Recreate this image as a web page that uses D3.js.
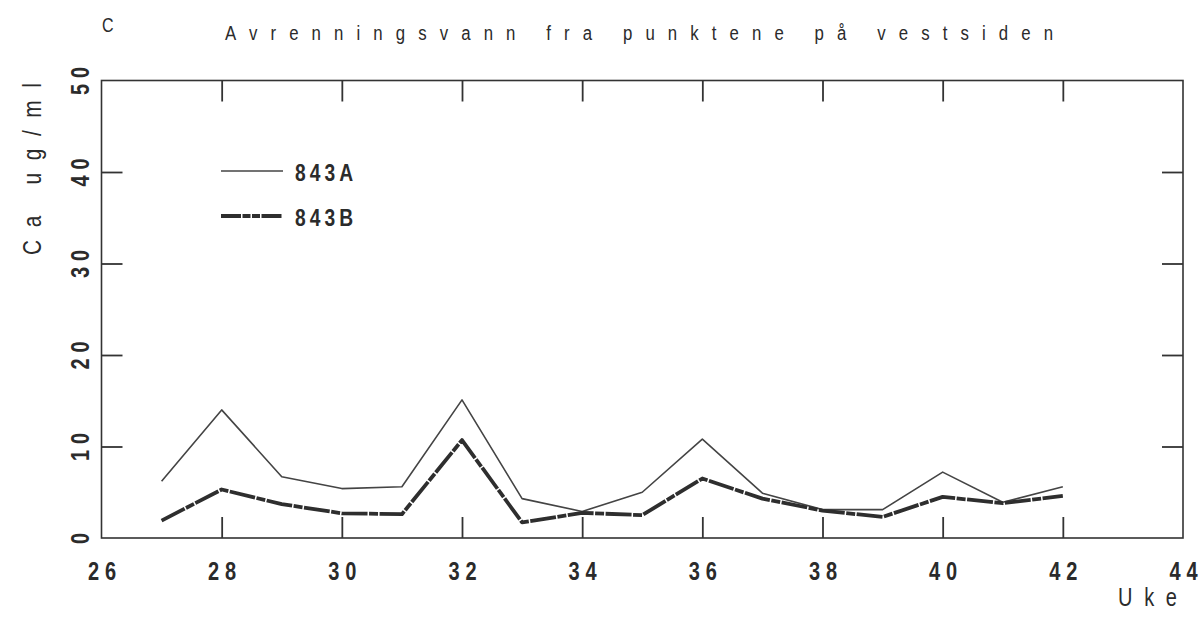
<!DOCTYPE html>
<html>
<head>
<meta charset="utf-8">
<script src="https://cdn.jsdelivr.net/npm/d3@7"></script>
<style>
  html, body { margin: 0; padding: 0; background: #fff; }
  svg { display: block; }
  text { font-family: "Liberation Sans", Arial, sans-serif; fill: #2b2b2b; }
</style>
</head>
<body>
<svg id="chart" width="1203" height="626"></svg>
<script>
// Week numbers and calcium concentration (ug/ml) per sampling point
const weeks = [27, 28, 29, 30, 31, 32, 33, 34, 35, 36, 37, 38, 39, 40, 41, 42];
const ca843A = [6.2, 14.0, 6.7, 5.4, 5.6, 15.1, 4.3, 2.9, 5.0, 10.8, 4.9, 3.1, 3.1, 7.2, 3.9, 5.6];
const ca843B = [1.9, 5.3, 3.7, 2.7, 2.6, 10.7, 1.7, 2.75, 2.5, 6.5, 4.3, 3.0, 2.3, 4.5, 3.8, 4.6];
const xTickLabels = [26, 28, 30, 32, 34, 36, 38, 40, 42, 44];
const xInnerTicks = [28, 30, 32, 34, 36, 38, 40, 42];
const yTickLabels = [0, 10, 20, 30, 40, 50];
const yInnerTicks = [10, 20, 30, 40];
const seriesNames = ["843A", "843B"];

const svg = d3.select("#chart");
const ink = "#333";
const narrow = 0.8;           // horizontal squeeze giving the tall, narrow plotter lettering
const narrowT = `scale(${narrow},1)`;

const plotLeft = 101.5, plotRight = 1183, plotTop = 80.5, plotBottom = 538;
const x = d3.scaleLinear().domain([26, 44]).range([plotLeft, plotRight]);
const y = d3.scaleLinear().domain([0, 50]).range([plotBottom, plotTop]);

// Panel letter and title
svg.append("text").attr("transform", `translate(102,32) ${narrowT}`)
  .style("font-size", "20px").text("C");
svg.append("text").attr("transform", `translate(225,40) ${narrowT}`)
  .attr("textLength", 828 / narrow).attr("lengthAdjust", "spacing")
  .style("font-size", "21px")
  .text("Avrenningsvann fra punktene på vestsiden");

// Frame
svg.append("rect")
  .attr("x", plotLeft).attr("y", plotTop)
  .attr("width", plotRight - plotLeft).attr("height", plotBottom - plotTop)
  .attr("fill", "none").attr("stroke", ink).attr("stroke-width", 1.6);

// Inward tick marks on all four sides
function styleTicks(g) {
  g.select(".domain").remove();
  g.selectAll("line").attr("stroke", ink).attr("stroke-width", 1.8);
  g.selectAll("text").remove();
}
svg.append("g").attr("transform", `translate(0,${plotBottom})`)
  .call(d3.axisBottom(x).tickValues(xInnerTicks).tickSize(-21)).call(styleTicks);
svg.append("g").attr("transform", `translate(0,${plotTop})`)
  .call(d3.axisTop(x).tickValues(xInnerTicks).tickSize(-21)).call(styleTicks);
svg.append("g").attr("transform", `translate(${plotLeft},0)`)
  .call(d3.axisLeft(y).tickValues(yInnerTicks).tickSize(-21)).call(styleTicks);
svg.append("g").attr("transform", `translate(${plotRight},0)`)
  .call(d3.axisRight(y).tickValues(yInnerTicks).tickSize(-21)).call(styleTicks);

const tickFont = g => g
  .attr("fill", "#2b2b2b")
  .style("font-size", "25px").style("font-weight", "bold")
  .style("letter-spacing", "7.4px")
  .style("font-family", "'Liberation Sans', Arial, sans-serif");

// X tick labels
const xLab = svg.append("g").attr("transform", `translate(0,${plotBottom})`)
  .call(d3.axisBottom(x).tickValues(xTickLabels).tickSize(0).tickPadding(0));
xLab.select(".domain").remove();
xLab.selectAll("text")
  .attr("y", 42).attr("dy", 0).attr("dx", 3.7)
  .attr("transform", narrowT)
  .call(tickFont);

// Y tick labels, rotated
const yLab = svg.append("g").attr("transform", `translate(${plotLeft},0)`)
  .call(d3.axisLeft(y).tickValues(yTickLabels).tickSize(0).tickPadding(0));
yLab.select(".domain").remove();
yLab.selectAll(".tick text")
  .attr("x", 0).attr("dy", 0).attr("dx", 3.7)
  .attr("text-anchor", "middle")
  .attr("transform", `translate(-13,0) rotate(-90) ${narrowT}`)
  .call(tickFont);

// Axis titles
svg.append("text")
  .attr("transform", `translate(41,169) rotate(-90) ${narrowT}`)
  .attr("text-anchor", "middle")
  .attr("textLength", 172 / narrow).attr("lengthAdjust", "spacing")
  .style("font-size", "26px")
  .text("Ca ug/ml");
svg.append("text").attr("transform", `translate(1118,606) ${narrowT}`)
  .attr("textLength", 59 / narrow).attr("lengthAdjust", "spacing")
  .style("font-size", "25px")
  .text("Uke");

// Series lines
const line = d3.line().x(d => x(d[0])).y(d => y(d[1]));
const styles = [
  { width: 1.6, color: "#444", dash: null },
  { width: 3.8, color: "#2e2e2e", dash: "26 1.5 9 1.5" }
];
[ca843A, ca843B].forEach((vals, i) => {
  svg.append("path")
    .datum(weeks.map((w, j) => [w, vals[j]]))
    .attr("d", line)
    .attr("fill", "none")
    .attr("stroke", styles[i].color)
    .attr("stroke-width", styles[i].width)
    .attr("stroke-linejoin", "round")
    .attr("stroke-dasharray", styles[i].dash);
});

// Legend
const legendY = [171, 216];
seriesNames.forEach((name, i) => {
  svg.append("line")
    .attr("x1", 221).attr("x2", 283)
    .attr("y1", legendY[i]).attr("y2", legendY[i])
    .attr("stroke", styles[i].color)
    .attr("stroke-width", styles[i].width)
    .attr("stroke-dasharray", i === 1 ? "20 1.5 8 1.5 8 1.5" : null);
  svg.append("text")
    .attr("transform", `translate(295,${legendY[i] + 10}) ${narrowT}`)
    .attr("textLength", 58 / narrow).attr("lengthAdjust", "spacing")
    .style("font-size", "24px").style("font-weight", "bold")
    .text(name);
});
</script>
</body>
</html>
